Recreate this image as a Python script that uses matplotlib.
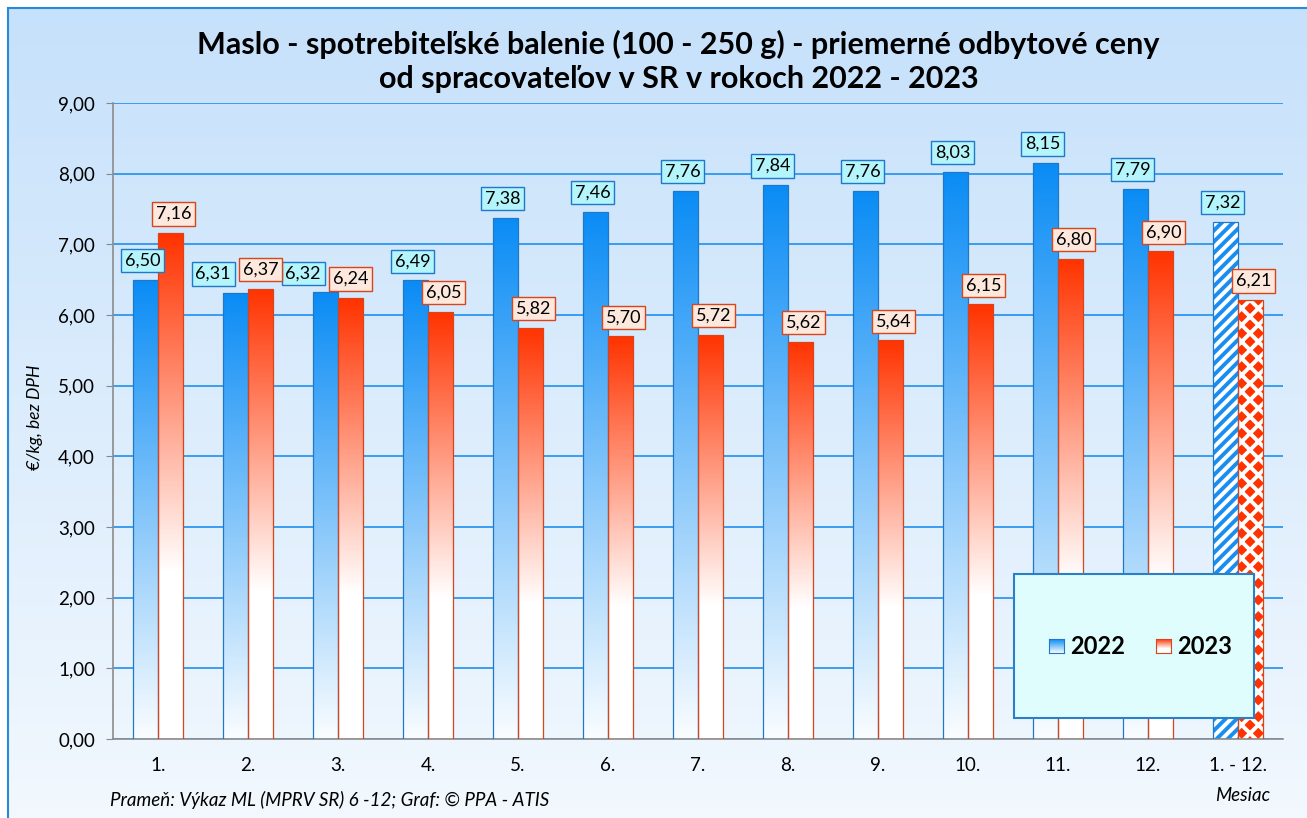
import numpy as np
import matplotlib
matplotlib.use('Agg')
import matplotlib.pyplot as plt
from matplotlib.colors import LinearSegmentedColormap
from matplotlib.patches import Rectangle
from matplotlib.ticker import FuncFormatter

plt.rcParams['font.family'] = ['Lato', 'DejaVu Sans']
plt.rcParams['hatch.linewidth'] = 2.8

# data
months = ['1.', '2.', '3.', '4.', '5.', '6.', '7.', '8.', '9.', '10.', '11.', '12.', '1. - 12.']
price_2022 = [6.50, 6.31, 6.32, 6.49, 7.38, 7.46, 7.76, 7.84, 7.76, 8.03, 8.15, 7.79, 7.32]
price_2023 = [7.16, 6.37, 6.24, 6.05, 5.82, 5.70, 5.72, 5.62, 5.64, 6.15, 6.80, 6.90, 6.21]

blue = '#0a8cf5'
red = '#ff3300'
blue_edge = '#1f78c8'
red_edge = '#d9441a'
cm_blue = LinearSegmentedColormap.from_list('b', [(0, '#fafdff'), (1, blue)])
cm_red = LinearSegmentedColormap.from_list('r', [(0, 'white'), (0.33, 'white'), (1, red)])
grad = np.linspace(0, 1, 256).reshape(-1, 1)

fig = plt.figure(figsize=(13.07, 8.18), dpi=100)
fig.patch.set_facecolor('white')

# chart area background gradient (inset a few pixels like the original)
bg = fig.add_axes([8 / 1307, 0, 1 - 8 / 1307, 1 - 8 / 818], zorder=-10)
bg.imshow(grad, aspect='auto', origin='lower',
          cmap=LinearSegmentedColormap.from_list('bg', ['#f2f8fe', '#c6e1fb']),
          extent=[0, 1, 0, 1])
bg.set_axis_off()
fig.patches.append(Rectangle((8 / 1307, -0.01), 1.0, 1.01 - 8 / 818, transform=fig.transFigure,
                             fill=False, ec='#2a8ad8', lw=1.5))

ax = fig.add_axes([0.0865, 0.0966, 0.8951, 0.7774])
ax.patch.set_alpha(0)
x = np.arange(len(months))
w = 0.28
n = len(months) - 1

bars22 = ax.bar(x[:n] - w / 2, price_2022[:n], w, fc='none', ec=blue_edge, lw=0.9, zorder=3)
bars23 = ax.bar(x[:n] + w / 2, price_2023[:n], w, fc='none', ec=red_edge, lw=0.9, zorder=3)
for bars, cm in [(bars22, cm_blue), (bars23, cm_red)]:
    for r in bars:
        im = ax.imshow(grad, cmap=cm, aspect='auto', origin='lower', zorder=2,
                       extent=[r.get_x(), r.get_x() + r.get_width(), 0, r.get_height()])
        im.set_clip_path(r)

# yearly average bars (patterned)
ax.bar(x[n] - w / 2, price_2022[n], w, fc='white', ec='#1a8ef0', hatch='///', lw=0, zorder=2)
ax.bar(x[n] - w / 2, price_2022[n], w, fc='none', ec=blue_edge, lw=0.9, zorder=3)
ax.bar(x[n] + w / 2, price_2023[n], w, fc=red, ec='white', hatch='xx', lw=0, zorder=2)
ax.bar(x[n] + w / 2, price_2023[n], w, fc='none', ec=red_edge, lw=0.9, zorder=3)

fmt = lambda v: f'{v:.2f}'.replace('.', ',')
for i in range(len(months)):
    # push the 2022 label left when the bars are about equally high
    close = abs(price_2022[i] - price_2023[i]) < 0.2
    dx22 = -16 if close else -2
    dx23 = 0 if close else 2
    ax.annotate(fmt(price_2022[i]), (x[i] - w / 2, price_2022[i]), xytext=(dx22, 8),
                textcoords='offset points', ha='center', va='bottom', fontsize=13, zorder=5,
                bbox=dict(boxstyle='square,pad=0.2', fc='#b4f4fb', ec=blue_edge, lw=1))
    ax.annotate(fmt(price_2023[i]), (x[i] + w / 2, price_2023[i]), xytext=(dx23, 8),
                textcoords='offset points', ha='center', va='bottom', fontsize=13, zorder=6,
                bbox=dict(boxstyle='square,pad=0.2', fc='#fde8dd', ec=red_edge, lw=1))

ax.set_xlim(-0.5, len(months) - 0.5)
ax.set_ylim(0, 9)
ax.set_yticks(np.arange(0, 10, 1))
ax.yaxis.set_major_formatter(FuncFormatter(lambda v, p: fmt(v)))
ax.set_xticks(x)
ax.set_xticklabels(months)
ax.tick_params(axis='x', length=0, labelsize=13.5, pad=13)
ax.tick_params(axis='y', length=5, color='#888888', labelsize=13.5, pad=8)
ax.grid(axis='y', color='#1e90f0', lw=1.2, zorder=1)
ax.set_axisbelow(True)
for s in ['top', 'right']:
    ax.spines[s].set_visible(False)
for s in ['left', 'bottom']:
    ax.spines[s].set_color('#8c8c8c')
    ax.spines[s].set_linewidth(1.2)

fig.text(0.519, 0.925, 'Maslo - spotrebiteľské balenie (100 - 250 g) - priemerné odbytové ceny\n'
         'od spracovateľov v SR v rokoch 2022 - 2023',
         ha='center', va='center', fontsize=22, fontweight='bold', linespacing=1.25)
fig.text(0.027, 0.49, '€/kg, bez DPH', rotation=90, ha='center', va='center',
         fontsize=12.5, style='italic')
fig.text(0.084, 0.022, 'Prameň: Výkaz ML (MPRV SR) 6 -12; Graf: © PPA - ATIS',
         ha='left', va='center', fontsize=13.5, style='italic')
fig.text(0.972, 0.028, 'Mesiac', ha='right', va='center', fontsize=13.5, style='italic')

# legend box
fig.patches.append(Rectangle((0.776, 0.122), 0.1836, 0.176, transform=fig.transFigure,
                             fc='#e0fdfd', ec='#2a80c8', lw=1.5, zorder=6))
for xs, cm, ec, label in [(0.8025, cm_blue, blue_edge, '2022'), (0.8845, cm_red, red_edge, '2023')]:
    sw = fig.add_axes([xs, 0.2015, 0.0115, 0.017], zorder=7)
    sw.imshow(grad, cmap=cm, aspect='auto', origin='lower')
    sw.set_xticks([])
    sw.set_yticks([])
    for sp in sw.spines.values():
        sp.set_color(ec)
    fig.text(xs + 0.0165, 0.21, label, ha='left', va='center', fontsize=17,
             fontweight='bold', zorder=8)

fig.savefig('out.png', dpi=100)
